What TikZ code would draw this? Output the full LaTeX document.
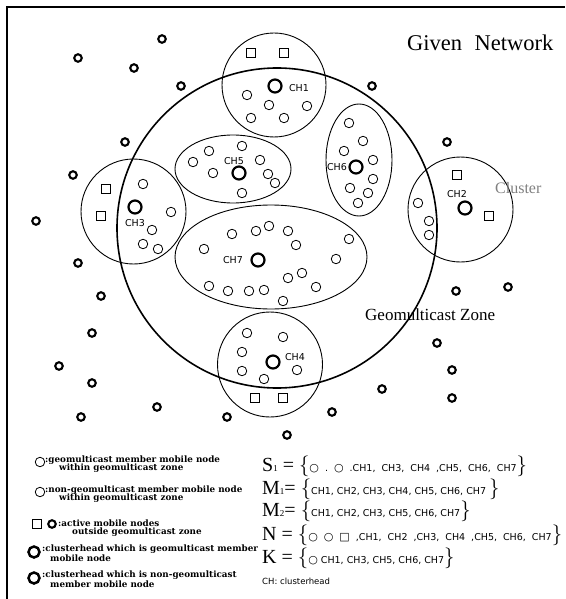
\documentclass[tikz,border=0pt]{standalone}
\usepackage{fontspec}
\setmainfont{Liberation Serif}
\setsansfont{Liberation Sans}
\newfontfamily\symfont{DejaVu Sans}
\newfontfamily\legfont{DejaVu Serif}
\newcommand\mylb{{\fontsize{20}{20}\selectfont$\{$}}
\newcommand\myrb{{\fontsize{20}{20}\selectfont$\}$}}
\newcommand\setel{\symfont\fontsize{9.5}{10}\selectfont}
\newcommand\setbig{\rmfamily\fontsize{20}{20}\selectfont}
\newcommand\setsub{\rmfamily\fontsize{9}{9}\selectfont}
\newcommand\cir{{\fontsize{11}{11}\selectfont ○}}
\newcommand\sqr{{\fontsize{11}{11}\selectfont □}}
\newcommand\gp{\hspace{6pt}}
\begin{document}
\begin{tikzpicture}[x=1pt,y=-1pt,
  outnode/.style={circle,draw,line width=2.1pt,minimum size=7.5pt,inner sep=0pt},
  member/.style={circle,draw,line width=0.8pt,minimum size=9.5pt,inner sep=0pt},
  head/.style={circle,draw,line width=2.2pt,minimum size=13pt,inner sep=0pt},
  sqnode/.style={rectangle,draw,line width=0.8pt,minimum size=8.5pt,inner sep=0pt},
  clusterline/.style={line width=0.9pt},
  zoneline/.style={line width=1.6pt},
  chlabel/.style={font=\symfont\fontsize{9.5}{9.5}\selectfont,inner sep=0pt},
  legtext/.style={font=\legfont\bfseries\fontsize{8.8}{9}\selectfont,inner sep=0pt,anchor=west},
  setrow/.style={inner sep=0pt,anchor=base west},
]
\useasboundingbox (0,0) rectangle (565,599);
\draw[line width=1.5pt] (7,599) -- (7,7) -- (565,7);

% geomulticast zone
\draw[zoneline] (277,228) circle[radius=160];
% clusters
\draw[clusterline] (274,85) circle[radius=52];
\draw[clusterline] (233,169) ellipse[x radius=58,y radius=34];
\draw[clusterline] (359,160) ellipse[x radius=33,y radius=56];
\draw[clusterline] (133.5,211.5) circle[radius=52.5];
\draw[clusterline] (460.5,209.5) circle[radius=52.5];
\draw[clusterline] (271,257) ellipse[x radius=96,y radius=52];
\draw[clusterline] (270,364.5) circle[radius=52.5];

% outside nodes
\foreach \x/\y [count=\i] in {162/39,78/58,134/68,181/86,372/86,125/142,447/142,73/175,36/221,78/263,101/296,92/333,59/366,92/383,81/417,157/407,227/417,287/435,332/412,382/389,452/398,452/370,437/343,456/291,508/287}
  \node[outnode] (o\i) at (\x,\y) {};

% CH1
\foreach \x/\y [count=\i] in {247/95,269/105,307/106,251/118,284/118}
  \node[member] (a\i) at (\x,\y) {};
\node[sqnode] (asq1) at (251,53) {};
\node[sqnode] (asq2) at (284,53) {};
\node[head] (ch1) at (275,86) {};
\node[chlabel] (ch1l) at (299,88) {CH1};

% CH5
\foreach \x/\y [count=\i] in {193/162,209/151,242/146,213/173,260/160,268/174,275/183,242/193}
  \node[member] (e\i) at (\x,\y) {};
\node[head] (ch5) at (239,173) {};
\node[chlabel] (ch5l) at (234,161) {CH5};

% CH6
\foreach \x/\y [count=\i] in {349/123,363/141,344/151,373/160,373/179,350/188,368/193,358/203}
  \node[member] (f\i) at (\x,\y) {};
\node[head] (ch6) at (356,167) {};
\node[chlabel] (ch6l) at (337,167) {CH6};

% CH3
\foreach \x/\y [count=\i] in {143/184,171/212,152/230,143/244,158/249}
  \node[member] (c\i) at (\x,\y) {};
\node[sqnode] (csq1) at (106,189) {};
\node[sqnode] (csq2) at (101,216) {};
\node[head] (ch3) at (135,207) {};
\node[chlabel] (ch3l) at (135,223) {CH3};

% CH2
\foreach \x/\y [count=\i] in {418/203,429/221,429/235}
  \node[member] (b\i) at (\x,\y) {};
\node[sqnode] (bsq1) at (457,175) {};
\node[sqnode] (bsq2) at (489,216) {};
\node[head] (ch2) at (465,208) {};
\node[chlabel] (ch2l) at (457,194) {CH2};

% CH7
\foreach \x/\y [count=\i] in {204/249,232/234,256/231,269/226,288/231,296/245,349/239,336/259,302/273,288/278,316/287,209/286,228/291,249/291,264/290,283/301}
  \node[member] (g\i) at (\x,\y) {};
\node[head] (ch7) at (258,260) {};
\node[chlabel] (ch7l) at (233,260) {CH7};

% CH4
\foreach \x/\y [count=\i] in {247/333,283/337,242/352,242/371,264/379,297/370}
  \node[member] (d\i) at (\x,\y) {};
\node[sqnode] (dsq1) at (255,398) {};
\node[sqnode] (dsq2) at (283,398) {};
\node[head] (ch4) at (273,362) {};
\node[chlabel] (ch4l) at (295,357) {CH4};

% texts
\node[anchor=west,inner sep=0pt,font=\fontsize{22.5}{22}\selectfont] (title) at (407,43) {Given\hspace{0.55em}Network};
\node[anchor=west,inner sep=0pt,font=\fontsize{17}{17}\selectfont] (zonel) at (365,315) {Geomulticast Zone};
\node[anchor=west,inner sep=0pt,font=\fontsize{16}{16}\selectfont,text=gray] (clusl) at (495,188) {Cluster};

% legend
\node[member] (lg1) at (40,462) {};
\node[legtext] (lt1a) at (45,460) {:geomulticast member mobile node};
\node[legtext] (lt1b) at (59,468.5) {within geomulticast zone};
\node[member] (lg2) at (40,492) {};
\node[legtext] (lt2a) at (45,490) {:non-geomulticast member mobile node};
\node[legtext] (lt2b) at (59,498.5) {within geomulticast zone};
\node[sqnode] (lg3a) at (37,524) {};
\node[outnode] (lg3b) at (52,524) {};
\node[legtext] (lt3a) at (58,523) {:active mobile nodes};
\node[legtext] (lt3b) at (72,532) {outside geomulticast zone};
\node[head,minimum size=11pt,line width=2.5pt] (lg4) at (34,552) {};
\node[legtext] (lt4a) at (42,549) {:clusterhead which is geomulticast member};
\node[legtext] (lt4b) at (50,558) {mobile node};
\node[head,minimum size=11pt,line width=2.5pt] (lg5) at (34,578) {};
\node[legtext] (lt5a) at (42,575) {:clusterhead which is non-geomulticast};
\node[legtext] (lt5b) at (50,584) {member mobile node};

% sets
\node[setrow] (rS) at (262,471) {\setbig S\setsub 1\setbig\ = \mylb\setel\cir\gp.\gp\cir\gp.CH1,\gp CH3,\gp CH4\gp,CH5,\gp CH6,\gp CH7\myrb};
\node[setrow] (rM1) at (262,494) {\setbig M\setsub 1\setbig= \mylb\setel CH1, CH2, CH3, CH4, CH5, CH6, CH7 \myrb};
\node[setrow] (rM2) at (262,516) {\setbig M\setsub 2\setbig= \mylb\setel CH1, CH2, CH3, CH5, CH6, CH7\myrb};
\node[setrow] (rN) at (262,540) {\setbig N\ = \mylb\setel\cir\gp\cir\gp\sqr\gp,CH1,\gp CH2\gp,CH3,\gp CH4\gp,CH5,\gp CH6,\gp CH7\myrb};
\node[setrow] (rK) at (262,563) {\setbig K\ = \mylb\setel\cir\ CH1, CH3, CH5, CH6, CH7\myrb};
\node[setrow,font=\symfont\fontsize{8.5}{9}\selectfont] (chnote) at (262,584) {CH: clusterhead};
\end{tikzpicture}
\end{document}
